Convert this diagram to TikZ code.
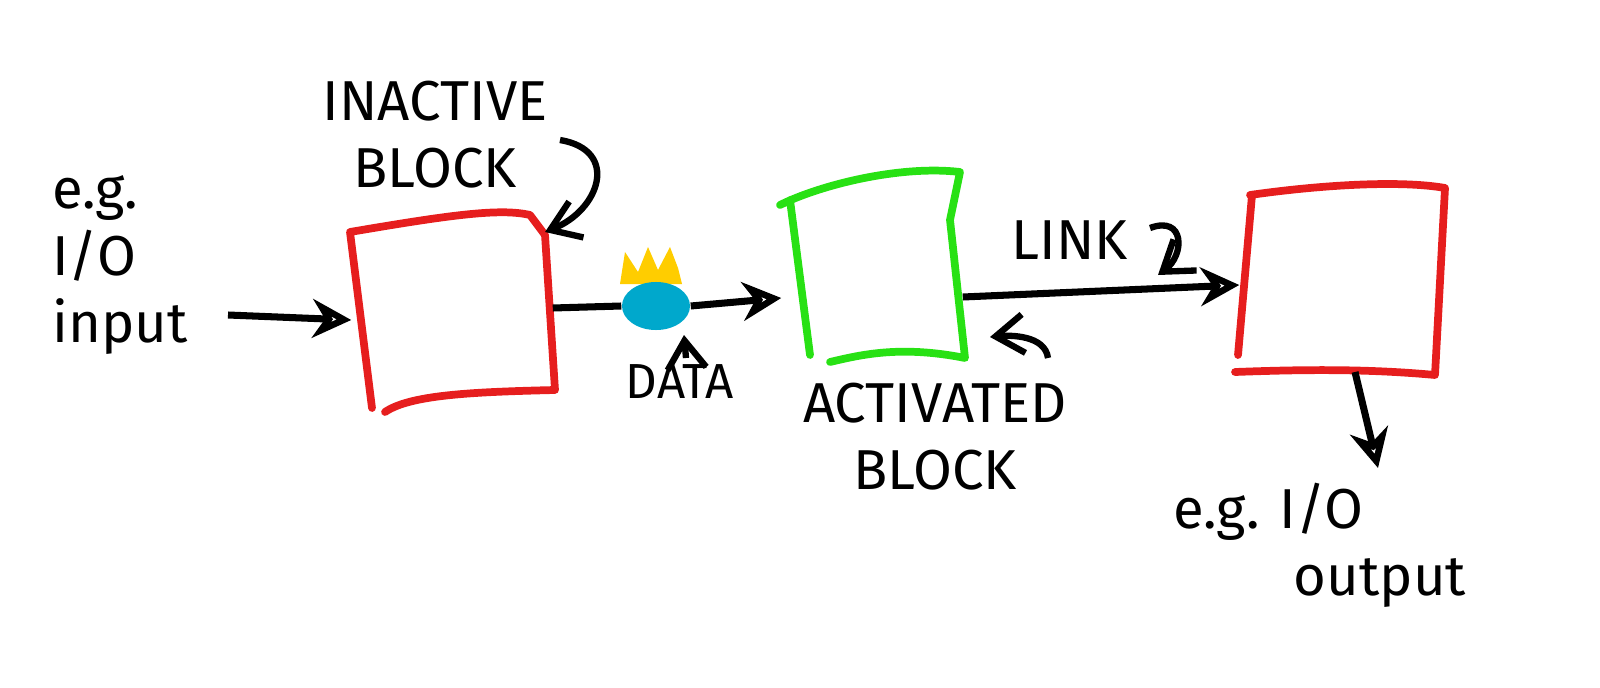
\documentclass[tikz,border=0pt]{standalone}
\usepackage{fontspec}
\setmainfont{Fira Sans}
\usetikzlibrary{arrows.meta,shapes.geometric}
\definecolor{sred}{RGB}{230,30,30}
\definecolor{sgreen}{RGB}{40,225,20}
\definecolor{sblue}{RGB}{0,168,204}
\definecolor{sgold}{RGB}{255,205,0}
\begin{document}
\begin{tikzpicture}[x=0.01cm,y=-0.01cm,
  box/.style={line width=2.2pt,draw=#1,line join=round,line cap=round},
  con/.style={line width=2pt,-{Stealth[open,length=11pt,width=11pt]}},
  lbl/.style={font=\fontsize{16}{19}\selectfont,align=center},
  note/.style={line width=1.8pt,-{Straight Barb[length=8pt,width=11pt]}}]
\useasboundingbox (0,0) rectangle (1600,688);
% boxes
\draw[box=sred] (350,232) .. controls (450,215) and (500,208) .. (530,215) -- (545,235) -- (555,390) .. controls (470,392) and (410,395) .. (385,412) (350,232) -- (372,408);
\node[minimum width=2cm,minimum height=1.8cm] (b1) at (452,312) {};
\draw[box=sgreen] (780,205) .. controls (820,185) and (900,165) .. (960,172) -- (950,220) -- (965,358) .. controls (900,345) and (860,355) .. (830,362) (790,200) -- (810,355);
\node[minimum width=1.8cm,minimum height=1.7cm] (b2) at (872,270) {};
\draw[box=sred] (1250,195) .. controls (1320,185) and (1400,180) .. (1445,188) -- (1435,375) .. controls (1360,368) and (1290,370) .. (1235,372) (1252,195) -- (1238,355);
\node[minimum width=2cm,minimum height=1.8cm] (b3) at (1340,282) {};
% blob
\fill[sgold] (620,284) -- (625,252) -- (638,272) -- (648,247) -- (658,270) -- (670,247) -- (678,268) -- (682,284) -- cycle;
\node[ellipse,fill=sblue,minimum width=0.68cm,minimum height=0.48cm,inner sep=0pt] (blob) at (656,306) {};
% labels
\node[lbl] (inact) at (435,135) {INACTIVE\\BLOCK};
\node[lbl,align=left] (inp) at (120,265) {e.g.\\I/O\\input};
\node[lbl,font=\fontsize{14}{16}\selectfont] (data) at (680,382) {DATA};
\node[lbl] (act) at (935,437) {ACTIVATED\\BLOCK};
\node[lbl] (link) at (1070,240) {LINK};
\node[lbl,align=left] (out) at (1320,545) {e.g. I/O\\\hspace*{1.2cm}output};
% connectors
\coordinate (in0) at (228,315);
\draw[con] (in0) -- (b1.west |- 0,320);
\draw[line width=2pt] (b1.east |- 0,308) -- (blob.west);
\draw[con] (blob.east) -- (b2.west |- 0,298);
\draw[con] (b2.east |- 0,297) -- (b3.west |- 0,285);
\coordinate (o1) at (1378,468);
\draw[con] (1355,372) -- (o1);
% notes
\draw[note] (560,140) .. controls (620,150) and (600,210) .. (545,232);
\draw[note] (1150,228) .. controls (1185,215) and (1185,255) .. (1158,275);
\draw[note] (1048,358) .. controls (1045,335) and (1010,335) .. (990,337);
\draw[note] (686,358) -- (684,335);
\end{tikzpicture}
\end{document}
